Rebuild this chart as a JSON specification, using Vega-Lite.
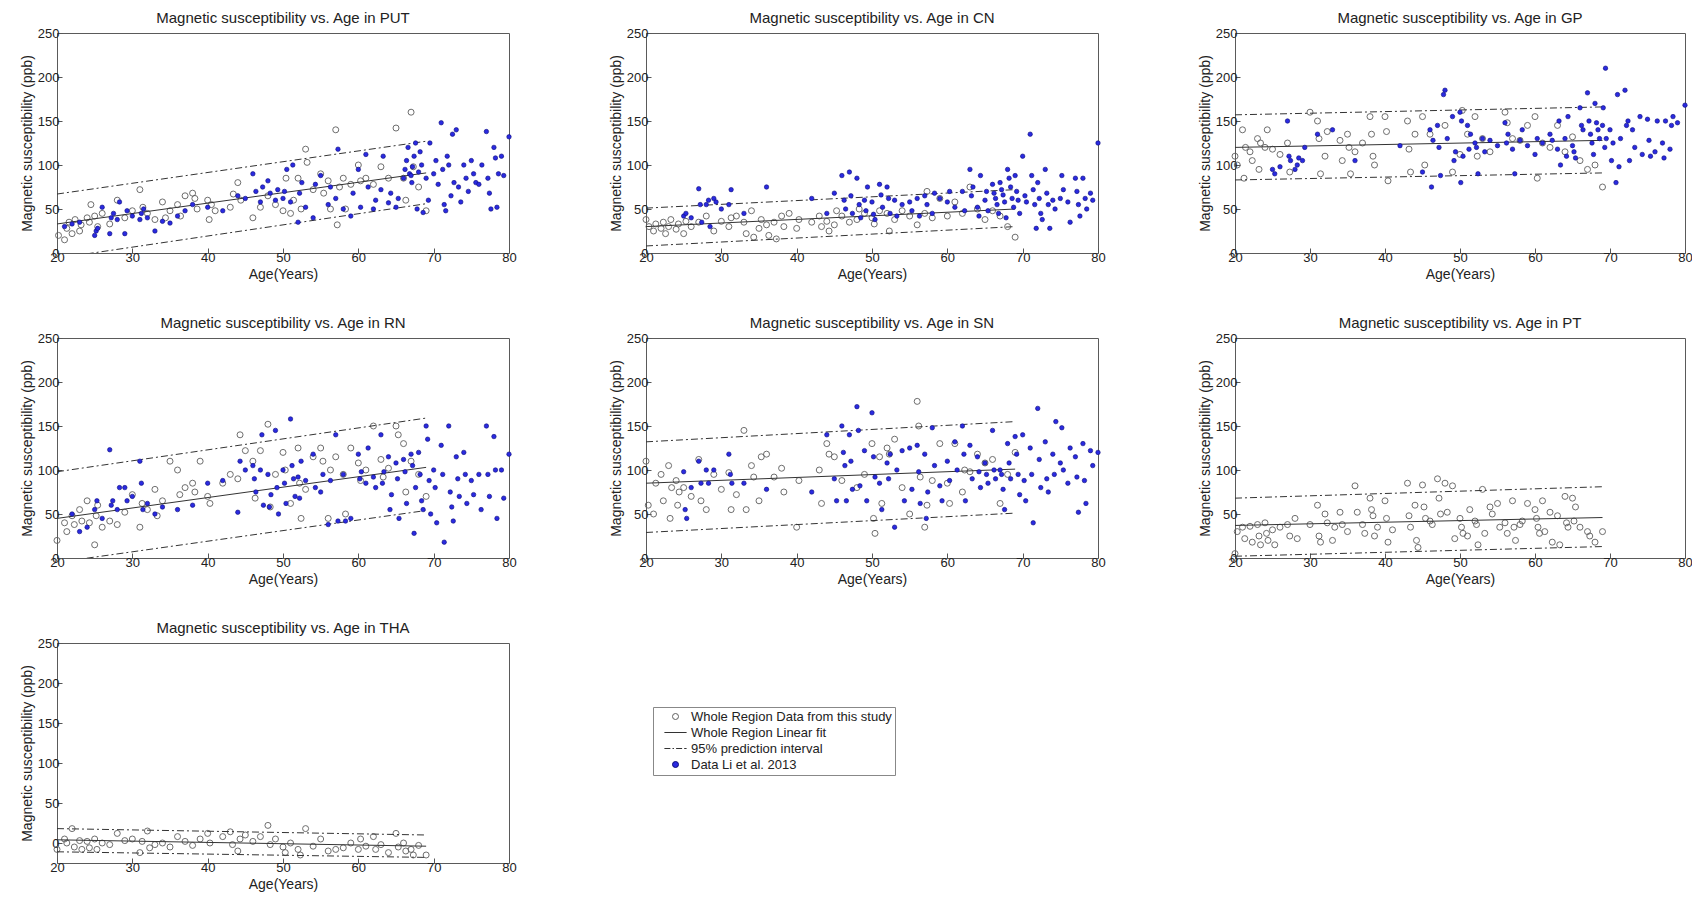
{
"$schema": "https://vega.github.io/schema/vega-lite/v6.json",
"background": "white",
"padding": {"left": 19, "top": 10, "right": 0, "bottom": 0},
"bounds": "flush",
"columns": 3,
"spacing": {"row": 85, "column": 137},
"concat": [
   {"width": 452, "height": 220, "title": "Magnetic susceptibility vs. Age in PUT",
    "encoding": {"x": {"field": "a", "type": "quantitative", "scale": {"domain": [20, 80], "nice": false, "zero": false}, "axis": {"values": [20,30,40,50,60,70,80], "title": "Age(Years)"}},
                 "y": {"field": "v", "type": "quantitative", "scale": {"domain": [0, 250], "nice": false, "zero": false}, "axis": {"values": [0,50,100,150,200,250], "title": "Magnetic susceptibility (ppb)"}}},
    "layer": [
     {"data": {"name": "PUT"}, "transform": [{"filter": "datum.s=='W'"}], "mark": {"type": "point", "filled": false, "strokeWidth": 0.9, "size": 36, "opacity": 1},
      "encoding": {"shape": {"field": "s", "type": "nominal", "scale": {"domain": ["W","F","P","L"], "range": ["circle","M-3.7,0H3.7","M-3.7,0H-1.7M-1,0H-0.5M0.2,0H2.2M2.9,0H3.7","circle"]}, "legend": {"title": null, "orient": "none", "legendX": 596, "legendY": 674, "symbolSize": 36, "labelExpr": "datum.label=='W'?'Whole Region Data from this study':datum.label=='F'?'Whole Region Linear fit':datum.label=='P'?'95% prediction interval':'Data Li et al. 2013'"}},
                   "fill": {"field": "s", "type": "nominal", "scale": {"domain": ["W","F","P","L"], "range": ["transparent","transparent","transparent","#2a2ae0"]}},
                   "stroke": {"field": "s", "type": "nominal", "scale": {"domain": ["W","F","P","L"], "range": ["#5e5e5e","#333333","#333333","#0b0b7a"]}}}},
     {"data": {"name": "PUT_l"}, "transform": [{"filter": "datum.k!='F'"}], "mark": {"type": "line", "clip": true, "strokeDash": [7,3,2,3], "color": "#333", "strokeWidth": 1}, "encoding": {"detail": {"field": "k"}}},
     {"data": {"name": "PUT_l"}, "transform": [{"filter": "datum.k=='F'"}], "mark": {"type": "line", "clip": true, "color": "#333", "strokeWidth": 1}, "encoding": {}},
     {"data": {"name": "PUT"}, "transform": [{"filter": "datum.s=='L'"}], "mark": {"type": "point", "filled": false, "strokeWidth": 0.6, "size": 20, "opacity": 1},
      "encoding": {"shape": {"field": "s", "type": "nominal", "scale": {"domain": ["W","F","P","L"], "range": ["circle","M-3.7,0H3.7","M-3.7,0H-1.7M-1,0H-0.5M0.2,0H2.2M2.9,0H3.7","circle"]}},
                   "fill": {"field": "s", "type": "nominal", "scale": {"domain": ["W","F","P","L"], "range": ["transparent","transparent","transparent","#2a2ae0"]}},
                   "stroke": {"field": "s", "type": "nominal", "scale": {"domain": ["W","F","P","L"], "range": ["#5e5e5e","#333333","#333333","#0b0b7a"]}}}}
    ]},
   {"width": 452, "height": 220, "title": "Magnetic susceptibility vs. Age in CN",
    "encoding": {"x": {"field": "a", "type": "quantitative", "scale": {"domain": [20, 80], "nice": false, "zero": false}, "axis": {"values": [20,30,40,50,60,70,80], "title": "Age(Years)"}},
                 "y": {"field": "v", "type": "quantitative", "scale": {"domain": [0, 250], "nice": false, "zero": false}, "axis": {"values": [0,50,100,150,200,250], "title": "Magnetic susceptibility (ppb)"}}},
    "layer": [
     {"data": {"name": "CN"}, "transform": [{"filter": "datum.s=='W'"}], "mark": {"type": "point", "filled": false, "strokeWidth": 0.9, "size": 36, "opacity": 1},
      "encoding": {"shape": {"field": "s", "type": "nominal", "scale": {"domain": ["W","F","P","L"], "range": ["circle","M-3.7,0H3.7","M-3.7,0H-1.7M-1,0H-0.5M0.2,0H2.2M2.9,0H3.7","circle"]}},
                   "fill": {"field": "s", "type": "nominal", "scale": {"domain": ["W","F","P","L"], "range": ["transparent","transparent","transparent","#2a2ae0"]}},
                   "stroke": {"field": "s", "type": "nominal", "scale": {"domain": ["W","F","P","L"], "range": ["#5e5e5e","#333333","#333333","#0b0b7a"]}}}},
     {"data": {"name": "CN_l"}, "transform": [{"filter": "datum.k!='F'"}], "mark": {"type": "line", "clip": true, "strokeDash": [7,3,2,3], "color": "#333", "strokeWidth": 1}, "encoding": {"detail": {"field": "k"}}},
     {"data": {"name": "CN_l"}, "transform": [{"filter": "datum.k=='F'"}], "mark": {"type": "line", "clip": true, "color": "#333", "strokeWidth": 1}, "encoding": {}},
     {"data": {"name": "CN"}, "transform": [{"filter": "datum.s=='L'"}], "mark": {"type": "point", "filled": false, "strokeWidth": 0.6, "size": 20, "opacity": 1},
      "encoding": {"shape": {"field": "s", "type": "nominal", "scale": {"domain": ["W","F","P","L"], "range": ["circle","M-3.7,0H3.7","M-3.7,0H-1.7M-1,0H-0.5M0.2,0H2.2M2.9,0H3.7","circle"]}},
                   "fill": {"field": "s", "type": "nominal", "scale": {"domain": ["W","F","P","L"], "range": ["transparent","transparent","transparent","#2a2ae0"]}},
                   "stroke": {"field": "s", "type": "nominal", "scale": {"domain": ["W","F","P","L"], "range": ["#5e5e5e","#333333","#333333","#0b0b7a"]}}}}
    ]},
   {"width": 450, "height": 220, "title": "Magnetic susceptibility vs. Age in GP",
    "encoding": {"x": {"field": "a", "type": "quantitative", "scale": {"domain": [20, 80], "nice": false, "zero": false}, "axis": {"values": [20,30,40,50,60,70,80], "title": "Age(Years)"}},
                 "y": {"field": "v", "type": "quantitative", "scale": {"domain": [0, 250], "nice": false, "zero": false}, "axis": {"values": [0,50,100,150,200,250], "title": "Magnetic susceptibility (ppb)"}}},
    "layer": [
     {"data": {"name": "GP"}, "transform": [{"filter": "datum.s=='W'"}], "mark": {"type": "point", "filled": false, "strokeWidth": 0.9, "size": 36, "opacity": 1},
      "encoding": {"shape": {"field": "s", "type": "nominal", "scale": {"domain": ["W","F","P","L"], "range": ["circle","M-3.7,0H3.7","M-3.7,0H-1.7M-1,0H-0.5M0.2,0H2.2M2.9,0H3.7","circle"]}},
                   "fill": {"field": "s", "type": "nominal", "scale": {"domain": ["W","F","P","L"], "range": ["transparent","transparent","transparent","#2a2ae0"]}},
                   "stroke": {"field": "s", "type": "nominal", "scale": {"domain": ["W","F","P","L"], "range": ["#5e5e5e","#333333","#333333","#0b0b7a"]}}}},
     {"data": {"name": "GP_l"}, "transform": [{"filter": "datum.k!='F'"}], "mark": {"type": "line", "clip": true, "strokeDash": [7,3,2,3], "color": "#333", "strokeWidth": 1}, "encoding": {"detail": {"field": "k"}}},
     {"data": {"name": "GP_l"}, "transform": [{"filter": "datum.k=='F'"}], "mark": {"type": "line", "clip": true, "color": "#333", "strokeWidth": 1}, "encoding": {}},
     {"data": {"name": "GP"}, "transform": [{"filter": "datum.s=='L'"}], "mark": {"type": "point", "filled": false, "strokeWidth": 0.6, "size": 20, "opacity": 1},
      "encoding": {"shape": {"field": "s", "type": "nominal", "scale": {"domain": ["W","F","P","L"], "range": ["circle","M-3.7,0H3.7","M-3.7,0H-1.7M-1,0H-0.5M0.2,0H2.2M2.9,0H3.7","circle"]}},
                   "fill": {"field": "s", "type": "nominal", "scale": {"domain": ["W","F","P","L"], "range": ["transparent","transparent","transparent","#2a2ae0"]}},
                   "stroke": {"field": "s", "type": "nominal", "scale": {"domain": ["W","F","P","L"], "range": ["#5e5e5e","#333333","#333333","#0b0b7a"]}}}}
    ]},
   {"width": 452, "height": 220, "title": "Magnetic susceptibility vs. Age in RN",
    "encoding": {"x": {"field": "a", "type": "quantitative", "scale": {"domain": [20, 80], "nice": false, "zero": false}, "axis": {"values": [20,30,40,50,60,70,80], "title": "Age(Years)"}},
                 "y": {"field": "v", "type": "quantitative", "scale": {"domain": [0, 250], "nice": false, "zero": false}, "axis": {"values": [0,50,100,150,200,250], "title": "Magnetic susceptibility (ppb)"}}},
    "layer": [
     {"data": {"name": "RN"}, "transform": [{"filter": "datum.s=='W'"}], "mark": {"type": "point", "filled": false, "strokeWidth": 0.9, "size": 36, "opacity": 1},
      "encoding": {"shape": {"field": "s", "type": "nominal", "scale": {"domain": ["W","F","P","L"], "range": ["circle","M-3.7,0H3.7","M-3.7,0H-1.7M-1,0H-0.5M0.2,0H2.2M2.9,0H3.7","circle"]}},
                   "fill": {"field": "s", "type": "nominal", "scale": {"domain": ["W","F","P","L"], "range": ["transparent","transparent","transparent","#2a2ae0"]}},
                   "stroke": {"field": "s", "type": "nominal", "scale": {"domain": ["W","F","P","L"], "range": ["#5e5e5e","#333333","#333333","#0b0b7a"]}}}},
     {"data": {"name": "RN_l"}, "transform": [{"filter": "datum.k!='F'"}], "mark": {"type": "line", "clip": true, "strokeDash": [7,3,2,3], "color": "#333", "strokeWidth": 1}, "encoding": {"detail": {"field": "k"}}},
     {"data": {"name": "RN_l"}, "transform": [{"filter": "datum.k=='F'"}], "mark": {"type": "line", "clip": true, "color": "#333", "strokeWidth": 1}, "encoding": {}},
     {"data": {"name": "RN"}, "transform": [{"filter": "datum.s=='L'"}], "mark": {"type": "point", "filled": false, "strokeWidth": 0.6, "size": 20, "opacity": 1},
      "encoding": {"shape": {"field": "s", "type": "nominal", "scale": {"domain": ["W","F","P","L"], "range": ["circle","M-3.7,0H3.7","M-3.7,0H-1.7M-1,0H-0.5M0.2,0H2.2M2.9,0H3.7","circle"]}},
                   "fill": {"field": "s", "type": "nominal", "scale": {"domain": ["W","F","P","L"], "range": ["transparent","transparent","transparent","#2a2ae0"]}},
                   "stroke": {"field": "s", "type": "nominal", "scale": {"domain": ["W","F","P","L"], "range": ["#5e5e5e","#333333","#333333","#0b0b7a"]}}}}
    ]},
   {"width": 452, "height": 220, "title": "Magnetic susceptibility vs. Age in SN",
    "encoding": {"x": {"field": "a", "type": "quantitative", "scale": {"domain": [20, 80], "nice": false, "zero": false}, "axis": {"values": [20,30,40,50,60,70,80], "title": "Age(Years)"}},
                 "y": {"field": "v", "type": "quantitative", "scale": {"domain": [0, 250], "nice": false, "zero": false}, "axis": {"values": [0,50,100,150,200,250], "title": "Magnetic susceptibility (ppb)"}}},
    "layer": [
     {"data": {"name": "SN"}, "transform": [{"filter": "datum.s=='W'"}], "mark": {"type": "point", "filled": false, "strokeWidth": 0.9, "size": 36, "opacity": 1},
      "encoding": {"shape": {"field": "s", "type": "nominal", "scale": {"domain": ["W","F","P","L"], "range": ["circle","M-3.7,0H3.7","M-3.7,0H-1.7M-1,0H-0.5M0.2,0H2.2M2.9,0H3.7","circle"]}},
                   "fill": {"field": "s", "type": "nominal", "scale": {"domain": ["W","F","P","L"], "range": ["transparent","transparent","transparent","#2a2ae0"]}},
                   "stroke": {"field": "s", "type": "nominal", "scale": {"domain": ["W","F","P","L"], "range": ["#5e5e5e","#333333","#333333","#0b0b7a"]}}}},
     {"data": {"name": "SN_l"}, "transform": [{"filter": "datum.k!='F'"}], "mark": {"type": "line", "clip": true, "strokeDash": [7,3,2,3], "color": "#333", "strokeWidth": 1}, "encoding": {"detail": {"field": "k"}}},
     {"data": {"name": "SN_l"}, "transform": [{"filter": "datum.k=='F'"}], "mark": {"type": "line", "clip": true, "color": "#333", "strokeWidth": 1}, "encoding": {}},
     {"data": {"name": "SN"}, "transform": [{"filter": "datum.s=='L'"}], "mark": {"type": "point", "filled": false, "strokeWidth": 0.6, "size": 20, "opacity": 1},
      "encoding": {"shape": {"field": "s", "type": "nominal", "scale": {"domain": ["W","F","P","L"], "range": ["circle","M-3.7,0H3.7","M-3.7,0H-1.7M-1,0H-0.5M0.2,0H2.2M2.9,0H3.7","circle"]}},
                   "fill": {"field": "s", "type": "nominal", "scale": {"domain": ["W","F","P","L"], "range": ["transparent","transparent","transparent","#2a2ae0"]}},
                   "stroke": {"field": "s", "type": "nominal", "scale": {"domain": ["W","F","P","L"], "range": ["#5e5e5e","#333333","#333333","#0b0b7a"]}}}}
    ]},
   {"width": 450, "height": 220, "title": "Magnetic susceptibility vs. Age in PT",
    "encoding": {"x": {"field": "a", "type": "quantitative", "scale": {"domain": [20, 80], "nice": false, "zero": false}, "axis": {"values": [20,30,40,50,60,70,80], "title": "Age(Years)"}},
                 "y": {"field": "v", "type": "quantitative", "scale": {"domain": [0, 250], "nice": false, "zero": false}, "axis": {"values": [0,50,100,150,200,250], "title": "Magnetic susceptibility (ppb)"}}},
    "layer": [
     {"data": {"name": "PT"}, "transform": [{"filter": "datum.s=='W'"}], "mark": {"type": "point", "filled": false, "strokeWidth": 0.9, "size": 36, "opacity": 1},
      "encoding": {"shape": {"field": "s", "type": "nominal", "scale": {"domain": ["W","F","P","L"], "range": ["circle","M-3.7,0H3.7","M-3.7,0H-1.7M-1,0H-0.5M0.2,0H2.2M2.9,0H3.7","circle"]}},
                   "fill": {"field": "s", "type": "nominal", "scale": {"domain": ["W","F","P","L"], "range": ["transparent","transparent","transparent","#2a2ae0"]}},
                   "stroke": {"field": "s", "type": "nominal", "scale": {"domain": ["W","F","P","L"], "range": ["#5e5e5e","#333333","#333333","#0b0b7a"]}}}},
     {"data": {"name": "PT_l"}, "transform": [{"filter": "datum.k!='F'"}], "mark": {"type": "line", "clip": true, "strokeDash": [7,3,2,3], "color": "#333", "strokeWidth": 1}, "encoding": {"detail": {"field": "k"}}},
     {"data": {"name": "PT_l"}, "transform": [{"filter": "datum.k=='F'"}], "mark": {"type": "line", "clip": true, "color": "#333", "strokeWidth": 1}, "encoding": {}}
    ]},
   {"width": 452, "height": 220, "title": "Magnetic susceptibility vs. Age in THA",
    "encoding": {"x": {"field": "a", "type": "quantitative", "scale": {"domain": [20, 80], "nice": false, "zero": false}, "axis": {"values": [20,30,40,50,60,70,80], "title": "Age(Years)"}},
                 "y": {"field": "v", "type": "quantitative", "scale": {"domain": [-25, 250], "nice": false, "zero": false}, "axis": {"values": [0,50,100,150,200,250], "title": "Magnetic susceptibility (ppb)"}}},
    "layer": [
     {"data": {"name": "THA"}, "transform": [{"filter": "datum.s=='W'"}], "mark": {"type": "point", "filled": false, "strokeWidth": 0.9, "size": 36, "opacity": 1},
      "encoding": {"shape": {"field": "s", "type": "nominal", "scale": {"domain": ["W","F","P","L"], "range": ["circle","M-3.7,0H3.7","M-3.7,0H-1.7M-1,0H-0.5M0.2,0H2.2M2.9,0H3.7","circle"]}},
                   "fill": {"field": "s", "type": "nominal", "scale": {"domain": ["W","F","P","L"], "range": ["transparent","transparent","transparent","#2a2ae0"]}},
                   "stroke": {"field": "s", "type": "nominal", "scale": {"domain": ["W","F","P","L"], "range": ["#5e5e5e","#333333","#333333","#0b0b7a"]}}}},
     {"data": {"name": "THA_l"}, "transform": [{"filter": "datum.k!='F'"}], "mark": {"type": "line", "clip": true, "strokeDash": [7,3,2,3], "color": "#333", "strokeWidth": 1}, "encoding": {"detail": {"field": "k"}}},
     {"data": {"name": "THA_l"}, "transform": [{"filter": "datum.k=='F'"}], "mark": {"type": "line", "clip": true, "color": "#333", "strokeWidth": 1}, "encoding": {}}
    ]}
],
"datasets": {
 "PUT_l": [{"k":"F","a":20,"v":33},{"k":"F","a":69,"v":91},{"k":"U","a":20,"v":67},{"k":"U","a":69,"v":127},{"k":"D","a":20,"v":-6},{"k":"D","a":69,"v":56}],
 "CN_l": [{"k":"F","a":20,"v":30},{"k":"F","a":69,"v":50},{"k":"U","a":20,"v":51},{"k":"U","a":69,"v":72},{"k":"D","a":20,"v":8},{"k":"D","a":69,"v":30}],
 "GP_l": [{"k":"F","a":20,"v":120},{"k":"F","a":69,"v":128},{"k":"U","a":20,"v":157},{"k":"U","a":69,"v":166},{"k":"D","a":20,"v":83},{"k":"D","a":69,"v":91}],
 "RN_l": [{"k":"F","a":20,"v":45},{"k":"F","a":69,"v":103},{"k":"U","a":20,"v":98},{"k":"U","a":69,"v":159},{"k":"D","a":20,"v":-5},{"k":"D","a":69,"v":54}],
 "SN_l": [{"k":"F","a":20,"v":85},{"k":"F","a":69,"v":101},{"k":"U","a":20,"v":132},{"k":"U","a":69,"v":155},{"k":"D","a":20,"v":29},{"k":"D","a":69,"v":51}],
 "PT_l": [{"k":"F","a":20,"v":37},{"k":"F","a":69,"v":46},{"k":"U","a":20,"v":68},{"k":"U","a":69,"v":81},{"k":"D","a":20,"v":2},{"k":"D","a":69,"v":13}],
 "THA_l": [{"k":"F","a":20,"v":4},{"k":"F","a":69,"v":-4},{"k":"U","a":20,"v":18},{"k":"U","a":69,"v":10},{"k":"D","a":20,"v":-11},{"k":"D","a":69,"v":-18}],
 "PUT": [
{"s":"W","a":20.2,"v":20},{"s":"W","a":21,"v":15},{"s":"W","a":21.3,"v":28},{"s":"W","a":21.6,"v":35},{"s":"W","a":22,"v":22},{"s":"W","a":22.4,"v":38},{"s":"W","a":23,"v":25},{"s":"W","a":23.2,"v":32},{"s":"W","a":24,"v":40},{"s":"W","a":24.3,"v":35},{"s":"W","a":24.5,"v":55},{"s":"W","a":25,"v":42},{"s":"W","a":25.4,"v":30},{"s":"W","a":26,"v":45},{"s":"W","a":27,"v":33},{"s":"W","a":28,"v":60},{"s":"W","a":29,"v":40},{"s":"W","a":30,"v":48},{"s":"W","a":31,"v":72},{"s":"W","a":31.4,"v":52},{"s":"W","a":32,"v":45},{"s":"W","a":33,"v":38},{"s":"W","a":34,"v":58},{"s":"W","a":34.4,"v":40},{"s":"W","a":35,"v":48},{"s":"W","a":36,"v":55},{"s":"W","a":36.4,"v":42},{"s":"W","a":37,"v":65},{"s":"W","a":38,"v":68},{"s":"W","a":38.3,"v":62},{"s":"W","a":38.6,"v":50},{"s":"W","a":40,"v":60},{"s":"W","a":40.2,"v":38},{"s":"W","a":40.5,"v":55},{"s":"W","a":41,"v":48},{"s":"W","a":43,"v":52},{"s":"W","a":43.4,"v":67},{"s":"W","a":44,"v":80},{"s":"W","a":44.4,"v":60},{"s":"W","a":46,"v":40},{"s":"W","a":47,"v":52},{"s":"W","a":48,"v":65},{"s":"W","a":49,"v":55},{"s":"W","a":50,"v":48},{"s":"W","a":50.4,"v":85},{"s":"W","a":51,"v":45},{"s":"W","a":51.4,"v":60},{"s":"W","a":52,"v":85},{"s":"W","a":52.4,"v":50},{"s":"W","a":53,"v":118},{"s":"W","a":53.2,"v":103},{"s":"W","a":54,"v":72},{"s":"W","a":55,"v":90},{"s":"W","a":55.4,"v":68},{"s":"W","a":56,"v":82},{"s":"W","a":56.3,"v":50},{"s":"W","a":57,"v":140},{"s":"W","a":57.2,"v":32},{"s":"W","a":57.5,"v":75},{"s":"W","a":58,"v":85},{"s":"W","a":58.3,"v":50},{"s":"W","a":59,"v":78},{"s":"W","a":60,"v":100},{"s":"W","a":60.3,"v":82},{"s":"W","a":61,"v":85},{"s":"W","a":62,"v":78},{"s":"W","a":63,"v":98},{"s":"W","a":64,"v":85},{"s":"W","a":65,"v":142},{"s":"W","a":66,"v":85},{"s":"W","a":66.3,"v":60},{"s":"W","a":67,"v":160},{"s":"W","a":67.3,"v":98},{"s":"W","a":68,"v":75},{"s":"W","a":69,"v":48},
{"s":"L","a":21,"v":30},{"s":"L","a":22,"v":33},{"s":"L","a":23,"v":35},{"s":"L","a":25,"v":20},{"s":"L","a":25.2,"v":25},{"s":"L","a":25.4,"v":28},{"s":"L","a":26,"v":52},{"s":"L","a":27,"v":22},{"s":"L","a":27.2,"v":40},{"s":"L","a":27.5,"v":45},{"s":"L","a":28,"v":38},{"s":"L","a":28.3,"v":58},{"s":"L","a":29,"v":22},{"s":"L","a":29.3,"v":48},{"s":"L","a":30,"v":42},{"s":"L","a":31,"v":38},{"s":"L","a":31.2,"v":45},{"s":"L","a":31.5,"v":50},{"s":"L","a":32,"v":40},{"s":"L","a":33,"v":25},{"s":"L","a":34,"v":36},{"s":"L","a":35,"v":34},{"s":"L","a":36,"v":42},{"s":"L","a":37,"v":48},{"s":"L","a":38,"v":55},{"s":"L","a":40,"v":52},{"s":"L","a":42,"v":48},{"s":"L","a":44,"v":65},{"s":"L","a":45,"v":62},{"s":"L","a":46,"v":90},{"s":"L","a":46.4,"v":70},{"s":"L","a":47,"v":58},{"s":"L","a":47.3,"v":75},{"s":"L","a":48,"v":82},{"s":"L","a":48.3,"v":68},{"s":"L","a":49,"v":60},{"s":"L","a":49.3,"v":72},{"s":"L","a":50,"v":62},{"s":"L","a":50.2,"v":70},{"s":"L","a":50.5,"v":95},{"s":"L","a":51,"v":58},{"s":"L","a":51.3,"v":100},{"s":"L","a":52,"v":35},{"s":"L","a":52.2,"v":68},{"s":"L","a":52.5,"v":80},{"s":"L","a":53,"v":52},{"s":"L","a":54,"v":40},{"s":"L","a":54.3,"v":78},{"s":"L","a":55,"v":88},{"s":"L","a":56,"v":55},{"s":"L","a":56.3,"v":75},{"s":"L","a":57,"v":62},{"s":"L","a":57.3,"v":118},{"s":"L","a":58,"v":50},{"s":"L","a":59,"v":42},{"s":"L","a":59.3,"v":68},{"s":"L","a":60,"v":95},{"s":"L","a":60.3,"v":52},{"s":"L","a":61,"v":112},{"s":"L","a":61.3,"v":75},{"s":"L","a":62,"v":50},{"s":"L","a":62.3,"v":60},{"s":"L","a":63,"v":72},{"s":"L","a":63.3,"v":110},{"s":"L","a":64,"v":57},{"s":"L","a":64.3,"v":68},{"s":"L","a":65,"v":52},{"s":"L","a":65.3,"v":62},{"s":"L","a":66,"v":85},{"s":"L","a":66.2,"v":95},{"s":"L","a":66.4,"v":105},{"s":"L","a":66.6,"v":120},{"s":"L","a":66.8,"v":90},{"s":"L","a":67,"v":88},{"s":"L","a":67.2,"v":98},{"s":"L","a":67.4,"v":110},{"s":"L","a":67.6,"v":125},{"s":"L","a":67.8,"v":50},{"s":"L","a":67.1,"v":80},{"s":"L","a":68,"v":92},{"s":"L","a":68.2,"v":115},{"s":"L","a":68.4,"v":100},{"s":"L","a":68.6,"v":46},{"s":"L","a":69,"v":85},{"s":"L","a":69.3,"v":60},{"s":"L","a":69.5,"v":125},{"s":"L","a":70,"v":90},{"s":"L","a":70.3,"v":105},{"s":"L","a":70.6,"v":78},{"s":"L","a":71,"v":148},{"s":"L","a":71.2,"v":95},{"s":"L","a":71.4,"v":55},{"s":"L","a":71.6,"v":48},{"s":"L","a":71.8,"v":110},{"s":"L","a":72,"v":100},{"s":"L","a":72.3,"v":65},{"s":"L","a":72.5,"v":135},{"s":"L","a":72.7,"v":80},{"s":"L","a":73,"v":140},{"s":"L","a":73.3,"v":75},{"s":"L","a":73.6,"v":58},{"s":"L","a":74,"v":100},{"s":"L","a":74.3,"v":85},{"s":"L","a":74.6,"v":70},{"s":"L","a":75,"v":105},{"s":"L","a":75.3,"v":90},{"s":"L","a":75.6,"v":80},{"s":"L","a":76,"v":78},{"s":"L","a":76.4,"v":100},{"s":"L","a":77,"v":138},{"s":"L","a":77.2,"v":85},{"s":"L","a":77.4,"v":68},{"s":"L","a":77.6,"v":50},{"s":"L","a":78,"v":120},{"s":"L","a":78.2,"v":108},{"s":"L","a":78.4,"v":52},{"s":"L","a":78.6,"v":90},{"s":"L","a":79,"v":110},{"s":"L","a":79.3,"v":88},{"s":"L","a":80,"v":132}],
 "CN": [
{"s":"W","a":20,"v":38},{"s":"W","a":20.4,"v":30},{"s":"W","a":21,"v":25},{"s":"W","a":21.3,"v":33},{"s":"W","a":22,"v":28},{"s":"W","a":22.3,"v":35},{"s":"W","a":22.6,"v":22},{"s":"W","a":23,"v":30},{"s":"W","a":23.3,"v":38},{"s":"W","a":24,"v":27},{"s":"W","a":24.3,"v":33},{"s":"W","a":25,"v":22},{"s":"W","a":25.3,"v":36},{"s":"W","a":26,"v":30},{"s":"W","a":27,"v":35},{"s":"W","a":28,"v":42},{"s":"W","a":29,"v":25},{"s":"W","a":30,"v":36},{"s":"W","a":31,"v":30},{"s":"W","a":31.3,"v":40},{"s":"W","a":32,"v":42},{"s":"W","a":33,"v":35},{"s":"W","a":33.3,"v":22},{"s":"W","a":34,"v":48},{"s":"W","a":34.3,"v":18},{"s":"W","a":35,"v":28},{"s":"W","a":35.3,"v":38},{"s":"W","a":36,"v":32},{"s":"W","a":36.3,"v":20},{"s":"W","a":37,"v":35},{"s":"W","a":37.3,"v":16},{"s":"W","a":38,"v":42},{"s":"W","a":38.3,"v":30},{"s":"W","a":39,"v":45},{"s":"W","a":40,"v":28},{"s":"W","a":40.3,"v":38},{"s":"W","a":42,"v":35},{"s":"W","a":43,"v":42},{"s":"W","a":43.3,"v":30},{"s":"W","a":44,"v":36},{"s":"W","a":44.3,"v":25},{"s":"W","a":45,"v":32},{"s":"W","a":45.3,"v":48},{"s":"W","a":46,"v":42},{"s":"W","a":47,"v":35},{"s":"W","a":48,"v":38},{"s":"W","a":48.3,"v":50},{"s":"W","a":49,"v":45},{"s":"W","a":50,"v":40},{"s":"W","a":50.3,"v":33},{"s":"W","a":51,"v":48},{"s":"W","a":52,"v":45},{"s":"W","a":52.3,"v":25},{"s":"W","a":53,"v":38},{"s":"W","a":54,"v":48},{"s":"W","a":55,"v":42},{"s":"W","a":56,"v":32},{"s":"W","a":57,"v":45},{"s":"W","a":57.3,"v":70},{"s":"W","a":58,"v":40},{"s":"W","a":59,"v":62},{"s":"W","a":60,"v":42},{"s":"W","a":61,"v":58},{"s":"W","a":62,"v":45},{"s":"W","a":63,"v":75},{"s":"W","a":64,"v":50},{"s":"W","a":65,"v":38},{"s":"W","a":66,"v":48},{"s":"W","a":67,"v":42},{"s":"W","a":68,"v":30},{"s":"W","a":69,"v":18},
{"s":"L","a":25,"v":42},{"s":"L","a":25.3,"v":45},{"s":"L","a":26,"v":40},{"s":"L","a":27,"v":73},{"s":"L","a":27.2,"v":55},{"s":"L","a":27.4,"v":35},{"s":"L","a":28,"v":55},{"s":"L","a":28.3,"v":60},{"s":"L","a":28.5,"v":30},{"s":"L","a":29,"v":62},{"s":"L","a":29.3,"v":58},{"s":"L","a":30,"v":50},{"s":"L","a":31,"v":55},{"s":"L","a":31.3,"v":72},{"s":"L","a":33,"v":45},{"s":"L","a":36,"v":75},{"s":"L","a":42,"v":62},{"s":"L","a":44,"v":45},{"s":"L","a":45,"v":68},{"s":"L","a":46,"v":88},{"s":"L","a":46.3,"v":60},{"s":"L","a":46.5,"v":50},{"s":"L","a":47,"v":92},{"s":"L","a":47.2,"v":65},{"s":"L","a":47.4,"v":45},{"s":"L","a":48,"v":85},{"s":"L","a":48.3,"v":55},{"s":"L","a":48.5,"v":40},{"s":"L","a":49,"v":60},{"s":"L","a":49.2,"v":48},{"s":"L","a":49.4,"v":75},{"s":"L","a":50,"v":58},{"s":"L","a":50.2,"v":44},{"s":"L","a":50.4,"v":38},{"s":"L","a":51,"v":78},{"s":"L","a":51.2,"v":66},{"s":"L","a":51.4,"v":52},{"s":"L","a":52,"v":75},{"s":"L","a":52.2,"v":62},{"s":"L","a":52.4,"v":45},{"s":"L","a":53,"v":60},{"s":"L","a":53.3,"v":42},{"s":"L","a":54,"v":55},{"s":"L","a":55,"v":58},{"s":"L","a":55.3,"v":48},{"s":"L","a":56,"v":62},{"s":"L","a":56.3,"v":42},{"s":"L","a":57,"v":65},{"s":"L","a":57.3,"v":55},{"s":"L","a":58,"v":45},{"s":"L","a":58.3,"v":68},{"s":"L","a":59,"v":62},{"s":"L","a":60,"v":58},{"s":"L","a":60.3,"v":70},{"s":"L","a":61,"v":52},{"s":"L","a":62,"v":70},{"s":"L","a":62.3,"v":48},{"s":"L","a":63,"v":95},{"s":"L","a":63.2,"v":65},{"s":"L","a":63.4,"v":75},{"s":"L","a":64,"v":52},{"s":"L","a":64.2,"v":42},{"s":"L","a":64.4,"v":88},{"s":"L","a":65,"v":60},{"s":"L","a":65.2,"v":70},{"s":"L","a":65.4,"v":48},{"s":"L","a":66,"v":78},{"s":"L","a":66.2,"v":68},{"s":"L","a":66.4,"v":62},{"s":"L","a":66.6,"v":55},{"s":"L","a":66.8,"v":45},{"s":"L","a":67,"v":80},{"s":"L","a":67.2,"v":72},{"s":"L","a":67.4,"v":66},{"s":"L","a":67.6,"v":58},{"s":"L","a":67.8,"v":40},{"s":"L","a":68,"v":95},{"s":"L","a":68.2,"v":85},{"s":"L","a":68.4,"v":75},{"s":"L","a":68.6,"v":62},{"s":"L","a":68.8,"v":52},{"s":"L","a":69,"v":88},{"s":"L","a":69.2,"v":70},{"s":"L","a":69.4,"v":60},{"s":"L","a":69.6,"v":45},{"s":"L","a":70,"v":110},{"s":"L","a":70.3,"v":65},{"s":"L","a":70.5,"v":58},{"s":"L","a":71,"v":135},{"s":"L","a":71.2,"v":88},{"s":"L","a":71.4,"v":72},{"s":"L","a":71.6,"v":55},{"s":"L","a":71.8,"v":28},{"s":"L","a":72,"v":80},{"s":"L","a":72.2,"v":62},{"s":"L","a":72.4,"v":45},{"s":"L","a":72.6,"v":38},{"s":"L","a":73,"v":95},{"s":"L","a":73.2,"v":68},{"s":"L","a":73.4,"v":55},{"s":"L","a":73.6,"v":28},{"s":"L","a":74,"v":60},{"s":"L","a":74.3,"v":50},{"s":"L","a":75,"v":62},{"s":"L","a":75.2,"v":88},{"s":"L","a":75.4,"v":72},{"s":"L","a":76,"v":58},{"s":"L","a":76.3,"v":35},{"s":"L","a":77,"v":85},{"s":"L","a":77.2,"v":70},{"s":"L","a":77.4,"v":55},{"s":"L","a":77.6,"v":42},{"s":"L","a":78,"v":85},{"s":"L","a":78.3,"v":62},{"s":"L","a":78.5,"v":50},{"s":"L","a":79,"v":68},{"s":"L","a":79.3,"v":60},{"s":"L","a":80,"v":125}],
 "GP": [
{"s":"W","a":20,"v":110},{"s":"W","a":20.3,"v":100},{"s":"W","a":21,"v":140},{"s":"W","a":21.2,"v":85},{"s":"W","a":21.4,"v":120},{"s":"W","a":22,"v":115},{"s":"W","a":22.3,"v":105},{"s":"W","a":23,"v":130},{"s":"W","a":23.2,"v":95},{"s":"W","a":23.4,"v":125},{"s":"W","a":24,"v":120},{"s":"W","a":24.3,"v":140},{"s":"W","a":25,"v":118},{"s":"W","a":26,"v":112},{"s":"W","a":27,"v":125},{"s":"W","a":27.3,"v":92},{"s":"W","a":30,"v":160},{"s":"W","a":31,"v":150},{"s":"W","a":31.2,"v":130},{"s":"W","a":31.4,"v":90},{"s":"W","a":32,"v":110},{"s":"W","a":32.3,"v":138},{"s":"W","a":34,"v":128},{"s":"W","a":34.3,"v":105},{"s":"W","a":35,"v":135},{"s":"W","a":35.2,"v":120},{"s":"W","a":35.4,"v":90},{"s":"W","a":36,"v":115},{"s":"W","a":37,"v":125},{"s":"W","a":38,"v":155},{"s":"W","a":38.2,"v":135},{"s":"W","a":38.4,"v":110},{"s":"W","a":38.6,"v":100},{"s":"W","a":40,"v":155},{"s":"W","a":40.2,"v":138},{"s":"W","a":40.4,"v":82},{"s":"W","a":43,"v":150},{"s":"W","a":43.2,"v":118},{"s":"W","a":43.4,"v":92},{"s":"W","a":44,"v":135},{"s":"W","a":45,"v":155},{"s":"W","a":45.3,"v":100},{"s":"W","a":46,"v":135},{"s":"W","a":48,"v":145},{"s":"W","a":49,"v":92},{"s":"W","a":50,"v":112},{"s":"W","a":50.3,"v":162},{"s":"W","a":51,"v":135},{"s":"W","a":52,"v":155},{"s":"W","a":52.3,"v":110},{"s":"W","a":53,"v":130},{"s":"W","a":54,"v":115},{"s":"W","a":56,"v":160},{"s":"W","a":56.3,"v":148},{"s":"W","a":57,"v":130},{"s":"W","a":58,"v":128},{"s":"W","a":59,"v":145},{"s":"W","a":60,"v":155},{"s":"W","a":60.3,"v":85},{"s":"W","a":61,"v":125},{"s":"W","a":62,"v":120},{"s":"W","a":63,"v":145},{"s":"W","a":64,"v":115},{"s":"W","a":65,"v":132},{"s":"W","a":66,"v":105},{"s":"W","a":67,"v":95},{"s":"W","a":68,"v":100},{"s":"W","a":69,"v":75},
{"s":"L","a":25,"v":95},{"s":"L","a":25.3,"v":90},{"s":"L","a":26,"v":98},{"s":"L","a":27,"v":150},{"s":"L","a":27.2,"v":110},{"s":"L","a":27.4,"v":105},{"s":"L","a":28,"v":95},{"s":"L","a":28.3,"v":100},{"s":"L","a":28.5,"v":108},{"s":"L","a":29,"v":105},{"s":"L","a":29.3,"v":120},{"s":"L","a":31,"v":135},{"s":"L","a":33,"v":140},{"s":"L","a":36,"v":105},{"s":"L","a":42,"v":122},{"s":"L","a":45,"v":92},{"s":"L","a":46,"v":140},{"s":"L","a":46.2,"v":75},{"s":"L","a":46.4,"v":128},{"s":"L","a":47,"v":145},{"s":"L","a":47.2,"v":120},{"s":"L","a":47.4,"v":88},{"s":"L","a":48,"v":185},{"s":"L","a":47.8,"v":180},{"s":"L","a":48.3,"v":130},{"s":"L","a":49,"v":155},{"s":"L","a":49.2,"v":105},{"s":"L","a":49.4,"v":115},{"s":"L","a":50,"v":160},{"s":"L","a":50.2,"v":150},{"s":"L","a":50.4,"v":110},{"s":"L","a":50.1,"v":80},{"s":"L","a":51,"v":145},{"s":"L","a":51.2,"v":118},{"s":"L","a":51.4,"v":135},{"s":"L","a":52,"v":125},{"s":"L","a":52.2,"v":120},{"s":"L","a":52.4,"v":90},{"s":"L","a":53,"v":130},{"s":"L","a":53.3,"v":115},{"s":"L","a":54,"v":128},{"s":"L","a":55,"v":122},{"s":"L","a":56,"v":148},{"s":"L","a":56.2,"v":125},{"s":"L","a":56.4,"v":135},{"s":"L","a":57,"v":118},{"s":"L","a":57.3,"v":90},{"s":"L","a":58,"v":128},{"s":"L","a":58.3,"v":140},{"s":"L","a":59,"v":122},{"s":"L","a":60,"v":112},{"s":"L","a":60.3,"v":130},{"s":"L","a":61,"v":125},{"s":"L","a":62,"v":135},{"s":"L","a":62.3,"v":128},{"s":"L","a":63,"v":118},{"s":"L","a":63.2,"v":150},{"s":"L","a":63.4,"v":100},{"s":"L","a":64,"v":130},{"s":"L","a":64.2,"v":110},{"s":"L","a":64.4,"v":155},{"s":"L","a":65,"v":122},{"s":"L","a":65.2,"v":115},{"s":"L","a":65.4,"v":108},{"s":"L","a":66,"v":165},{"s":"L","a":66.2,"v":145},{"s":"L","a":66.4,"v":140},{"s":"L","a":67,"v":182},{"s":"L","a":67.2,"v":150},{"s":"L","a":67.4,"v":135},{"s":"L","a":67.6,"v":125},{"s":"L","a":67.8,"v":112},{"s":"L","a":68,"v":170},{"s":"L","a":68.2,"v":148},{"s":"L","a":68.4,"v":140},{"s":"L","a":68.6,"v":130},{"s":"L","a":69,"v":145},{"s":"L","a":69.1,"v":165},{"s":"L","a":69.3,"v":120},{"s":"L","a":69.5,"v":130},{"s":"L","a":69.4,"v":210},{"s":"L","a":70,"v":140},{"s":"L","a":70.2,"v":105},{"s":"L","a":70.4,"v":125},{"s":"L","a":71,"v":180},{"s":"L","a":71.2,"v":98},{"s":"L","a":70.8,"v":80},{"s":"L","a":71.4,"v":130},{"s":"L","a":72,"v":185},{"s":"L","a":72.2,"v":145},{"s":"L","a":72.4,"v":150},{"s":"L","a":72.6,"v":105},{"s":"L","a":73,"v":140},{"s":"L","a":73.3,"v":120},{"s":"L","a":74,"v":155},{"s":"L","a":74.3,"v":112},{"s":"L","a":75,"v":152},{"s":"L","a":75.2,"v":128},{"s":"L","a":75.4,"v":110},{"s":"L","a":76,"v":115},{"s":"L","a":76.3,"v":150},{"s":"L","a":77,"v":125},{"s":"L","a":77.2,"v":108},{"s":"L","a":77.4,"v":150},{"s":"L","a":78,"v":118},{"s":"L","a":78.2,"v":145},{"s":"L","a":78.4,"v":155},{"s":"L","a":79,"v":148},{"s":"L","a":80,"v":168}],
 "RN": [
{"s":"W","a":20,"v":20},{"s":"W","a":21,"v":40},{"s":"W","a":21.3,"v":30},{"s":"W","a":22,"v":48},{"s":"W","a":22.3,"v":38},{"s":"W","a":23,"v":55},{"s":"W","a":23.3,"v":42},{"s":"W","a":24,"v":65},{"s":"W","a":24.3,"v":40},{"s":"W","a":25,"v":15},{"s":"W","a":25.2,"v":48},{"s":"W","a":25.4,"v":60},{"s":"W","a":26,"v":35},{"s":"W","a":27,"v":42},{"s":"W","a":28,"v":38},{"s":"W","a":29,"v":52},{"s":"W","a":30,"v":72},{"s":"W","a":31,"v":35},{"s":"W","a":31.3,"v":62},{"s":"W","a":32,"v":55},{"s":"W","a":33,"v":78},{"s":"W","a":33.3,"v":48},{"s":"W","a":34,"v":65},{"s":"W","a":35,"v":110},{"s":"W","a":36,"v":100},{"s":"W","a":36.3,"v":72},{"s":"W","a":37,"v":80},{"s":"W","a":38,"v":85},{"s":"W","a":38.3,"v":75},{"s":"W","a":39,"v":110},{"s":"W","a":40,"v":70},{"s":"W","a":40.3,"v":62},{"s":"W","a":42,"v":85},{"s":"W","a":43,"v":95},{"s":"W","a":44,"v":90},{"s":"W","a":44.3,"v":140},{"s":"W","a":45,"v":122},{"s":"W","a":46,"v":110},{"s":"W","a":46.3,"v":68},{"s":"W","a":47,"v":122},{"s":"W","a":48,"v":152},{"s":"W","a":48.3,"v":58},{"s":"W","a":49,"v":95},{"s":"W","a":50,"v":120},{"s":"W","a":50.3,"v":100},{"s":"W","a":51,"v":62},{"s":"W","a":52,"v":125},{"s":"W","a":52.2,"v":85},{"s":"W","a":52.4,"v":45},{"s":"W","a":53,"v":78},{"s":"W","a":54,"v":115},{"s":"W","a":55,"v":125},{"s":"W","a":55.3,"v":110},{"s":"W","a":56,"v":45},{"s":"W","a":56.3,"v":100},{"s":"W","a":57,"v":115},{"s":"W","a":58,"v":95},{"s":"W","a":58.3,"v":50},{"s":"W","a":59,"v":125},{"s":"W","a":60,"v":108},{"s":"W","a":60.3,"v":88},{"s":"W","a":61,"v":100},{"s":"W","a":62,"v":150},{"s":"W","a":63,"v":112},{"s":"W","a":63.3,"v":92},{"s":"W","a":64,"v":102},{"s":"W","a":65,"v":150},{"s":"W","a":65.3,"v":140},{"s":"W","a":66,"v":130},{"s":"W","a":66.3,"v":75},{"s":"W","a":67,"v":110},{"s":"W","a":68,"v":95},{"s":"W","a":69,"v":70},
{"s":"L","a":22,"v":50},{"s":"L","a":23,"v":30},{"s":"L","a":24,"v":35},{"s":"L","a":25,"v":55},{"s":"L","a":25.3,"v":65},{"s":"L","a":26,"v":45},{"s":"L","a":27,"v":123},{"s":"L","a":27.2,"v":60},{"s":"L","a":27.4,"v":65},{"s":"L","a":28,"v":55},{"s":"L","a":28.3,"v":80},{"s":"L","a":29,"v":80},{"s":"L","a":29.3,"v":65},{"s":"L","a":30,"v":70},{"s":"L","a":31,"v":110},{"s":"L","a":31.2,"v":85},{"s":"L","a":31.4,"v":55},{"s":"L","a":32,"v":62},{"s":"L","a":33,"v":50},{"s":"L","a":34,"v":58},{"s":"L","a":36,"v":55},{"s":"L","a":38,"v":60},{"s":"L","a":40,"v":85},{"s":"L","a":42,"v":88},{"s":"L","a":44,"v":52},{"s":"L","a":44.3,"v":110},{"s":"L","a":45,"v":100},{"s":"L","a":46,"v":105},{"s":"L","a":46.2,"v":90},{"s":"L","a":46.4,"v":75},{"s":"L","a":47,"v":100},{"s":"L","a":47.2,"v":140},{"s":"L","a":47.4,"v":60},{"s":"L","a":48,"v":95},{"s":"L","a":48.2,"v":58},{"s":"L","a":48.4,"v":72},{"s":"L","a":49,"v":145},{"s":"L","a":49.2,"v":80},{"s":"L","a":49.4,"v":50},{"s":"L","a":50,"v":100},{"s":"L","a":50.2,"v":85},{"s":"L","a":50.4,"v":62},{"s":"L","a":51,"v":158},{"s":"L","a":51.2,"v":105},{"s":"L","a":51.4,"v":90},{"s":"L","a":51.6,"v":70},{"s":"L","a":52,"v":92},{"s":"L","a":52.2,"v":68},{"s":"L","a":52.4,"v":110},{"s":"L","a":53,"v":88},{"s":"L","a":54,"v":118},{"s":"L","a":54.3,"v":80},{"s":"L","a":55,"v":75},{"s":"L","a":55.3,"v":95},{"s":"L","a":56,"v":38},{"s":"L","a":56.3,"v":88},{"s":"L","a":57,"v":140},{"s":"L","a":57.3,"v":42},{"s":"L","a":58,"v":95},{"s":"L","a":58.3,"v":42},{"s":"L","a":59,"v":45},{"s":"L","a":60,"v":118},{"s":"L","a":60.2,"v":90},{"s":"L","a":60.4,"v":98},{"s":"L","a":61,"v":85},{"s":"L","a":61.3,"v":125},{"s":"L","a":62,"v":92},{"s":"L","a":62.3,"v":80},{"s":"L","a":63,"v":140},{"s":"L","a":63.2,"v":85},{"s":"L","a":63.4,"v":98},{"s":"L","a":64,"v":115},{"s":"L","a":64.2,"v":55},{"s":"L","a":64.4,"v":72},{"s":"L","a":65,"v":108},{"s":"L","a":65.2,"v":90},{"s":"L","a":65.4,"v":45},{"s":"L","a":66,"v":112},{"s":"L","a":66.2,"v":98},{"s":"L","a":66.4,"v":62},{"s":"L","a":67,"v":118},{"s":"L","a":67.2,"v":105},{"s":"L","a":67.4,"v":28},{"s":"L","a":67.6,"v":80},{"s":"L","a":68,"v":120},{"s":"L","a":68.2,"v":95},{"s":"L","a":68.4,"v":65},{"s":"L","a":68.6,"v":55},{"s":"L","a":69,"v":150},{"s":"L","a":69.2,"v":135},{"s":"L","a":69.4,"v":88},{"s":"L","a":69.6,"v":50},{"s":"L","a":70,"v":100},{"s":"L","a":70.2,"v":80},{"s":"L","a":70.4,"v":40},{"s":"L","a":71,"v":128},{"s":"L","a":71.2,"v":95},{"s":"L","a":71.4,"v":18},{"s":"L","a":72,"v":150},{"s":"L","a":72.2,"v":75},{"s":"L","a":72.4,"v":58},{"s":"L","a":72.6,"v":42},{"s":"L","a":73,"v":115},{"s":"L","a":73.2,"v":90},{"s":"L","a":73.4,"v":70},{"s":"L","a":74,"v":120},{"s":"L","a":74.2,"v":95},{"s":"L","a":74.4,"v":62},{"s":"L","a":75,"v":88},{"s":"L","a":75.3,"v":72},{"s":"L","a":76,"v":95},{"s":"L","a":76.3,"v":55},{"s":"L","a":77,"v":150},{"s":"L","a":77.2,"v":95},{"s":"L","a":77.4,"v":70},{"s":"L","a":78,"v":138},{"s":"L","a":78.2,"v":100},{"s":"L","a":78.4,"v":45},{"s":"L","a":79,"v":100},{"s":"L","a":79.3,"v":68},{"s":"L","a":80,"v":118}],
 "SN": [
{"s":"W","a":20,"v":110},{"s":"W","a":20.3,"v":60},{"s":"W","a":21,"v":50},{"s":"W","a":21.3,"v":85},{"s":"W","a":22,"v":95},{"s":"W","a":22.3,"v":65},{"s":"W","a":23,"v":105},{"s":"W","a":23.2,"v":45},{"s":"W","a":23.4,"v":80},{"s":"W","a":24,"v":88},{"s":"W","a":24.2,"v":60},{"s":"W","a":24.4,"v":75},{"s":"W","a":25,"v":80},{"s":"W","a":26,"v":70},{"s":"W","a":27,"v":112},{"s":"W","a":27.3,"v":65},{"s":"W","a":28,"v":55},{"s":"W","a":29,"v":95},{"s":"W","a":30,"v":78},{"s":"W","a":31,"v":97},{"s":"W","a":31.3,"v":55},{"s":"W","a":32,"v":72},{"s":"W","a":33,"v":145},{"s":"W","a":33.3,"v":55},{"s":"W","a":34,"v":105},{"s":"W","a":34.3,"v":92},{"s":"W","a":35,"v":65},{"s":"W","a":35.3,"v":115},{"s":"W","a":36,"v":118},{"s":"W","a":37,"v":92},{"s":"W","a":38,"v":102},{"s":"W","a":38.3,"v":75},{"s":"W","a":40,"v":35},{"s":"W","a":40.3,"v":88},{"s":"W","a":43,"v":100},{"s":"W","a":43.3,"v":62},{"s":"W","a":44,"v":130},{"s":"W","a":44.3,"v":118},{"s":"W","a":45,"v":115},{"s":"W","a":46,"v":88},{"s":"W","a":48,"v":80},{"s":"W","a":49,"v":95},{"s":"W","a":50,"v":130},{"s":"W","a":50.2,"v":45},{"s":"W","a":50.4,"v":28},{"s":"W","a":51,"v":115},{"s":"W","a":51.3,"v":62},{"s":"W","a":52,"v":125},{"s":"W","a":52.3,"v":118},{"s":"W","a":53,"v":135},{"s":"W","a":54,"v":80},{"s":"W","a":55,"v":50},{"s":"W","a":56,"v":178},{"s":"W","a":56.2,"v":150},{"s":"W","a":56.4,"v":92},{"s":"W","a":57,"v":35},{"s":"W","a":57.3,"v":60},{"s":"W","a":58,"v":88},{"s":"W","a":59,"v":130},{"s":"W","a":60,"v":85},{"s":"W","a":60.3,"v":62},{"s":"W","a":61,"v":130},{"s":"W","a":62,"v":75},{"s":"W","a":62.3,"v":100},{"s":"W","a":63,"v":98},{"s":"W","a":64,"v":118},{"s":"W","a":65,"v":108},{"s":"W","a":66,"v":112},{"s":"W","a":67,"v":62},{"s":"W","a":68,"v":95},{"s":"W","a":69,"v":120},
{"s":"L","a":25,"v":98},{"s":"L","a":25.2,"v":55},{"s":"L","a":25.4,"v":45},{"s":"L","a":26,"v":80},{"s":"L","a":27,"v":110},{"s":"L","a":27.3,"v":85},{"s":"L","a":28,"v":100},{"s":"L","a":28.3,"v":85},{"s":"L","a":29,"v":100},{"s":"L","a":31,"v":118},{"s":"L","a":31.2,"v":95},{"s":"L","a":31.4,"v":85},{"s":"L","a":33,"v":85},{"s":"L","a":36,"v":78},{"s":"L","a":42,"v":75},{"s":"L","a":44,"v":140},{"s":"L","a":45,"v":90},{"s":"L","a":45.3,"v":65},{"s":"L","a":46,"v":150},{"s":"L","a":46.2,"v":120},{"s":"L","a":46.4,"v":105},{"s":"L","a":46.6,"v":65},{"s":"L","a":47,"v":140},{"s":"L","a":47.2,"v":110},{"s":"L","a":47.4,"v":78},{"s":"L","a":48,"v":172},{"s":"L","a":48.2,"v":145},{"s":"L","a":48.4,"v":82},{"s":"L","a":49,"v":122},{"s":"L","a":49.3,"v":65},{"s":"L","a":50,"v":165},{"s":"L","a":50.2,"v":115},{"s":"L","a":50.4,"v":92},{"s":"L","a":51,"v":85},{"s":"L","a":51.3,"v":55},{"s":"L","a":52,"v":108},{"s":"L","a":52.2,"v":90},{"s":"L","a":52.4,"v":118},{"s":"L","a":53,"v":35},{"s":"L","a":53.3,"v":100},{"s":"L","a":54,"v":122},{"s":"L","a":54.3,"v":65},{"s":"L","a":55,"v":125},{"s":"L","a":55.3,"v":78},{"s":"L","a":56,"v":128},{"s":"L","a":56.2,"v":98},{"s":"L","a":56.4,"v":62},{"s":"L","a":57,"v":118},{"s":"L","a":57.2,"v":45},{"s":"L","a":57.4,"v":75},{"s":"L","a":58,"v":148},{"s":"L","a":58.3,"v":105},{"s":"L","a":59,"v":82},{"s":"L","a":59.3,"v":65},{"s":"L","a":60,"v":110},{"s":"L","a":60.3,"v":88},{"s":"L","a":61,"v":132},{"s":"L","a":61.3,"v":100},{"s":"L","a":62,"v":150},{"s":"L","a":62.2,"v":118},{"s":"L","a":62.4,"v":65},{"s":"L","a":63,"v":128},{"s":"L","a":63.3,"v":90},{"s":"L","a":64,"v":115},{"s":"L","a":64.2,"v":98},{"s":"L","a":64.4,"v":80},{"s":"L","a":65,"v":108},{"s":"L","a":65.2,"v":95},{"s":"L","a":65.4,"v":85},{"s":"L","a":66,"v":145},{"s":"L","a":66.2,"v":100},{"s":"L","a":66.4,"v":90},{"s":"L","a":67,"v":100},{"s":"L","a":67.2,"v":95},{"s":"L","a":67.4,"v":78},{"s":"L","a":67.6,"v":55},{"s":"L","a":68,"v":130},{"s":"L","a":68.2,"v":108},{"s":"L","a":68.4,"v":90},{"s":"L","a":69,"v":138},{"s":"L","a":69.2,"v":118},{"s":"L","a":69.4,"v":95},{"s":"L","a":69.6,"v":72},{"s":"L","a":70,"v":140},{"s":"L","a":70.2,"v":88},{"s":"L","a":70.4,"v":65},{"s":"L","a":71,"v":125},{"s":"L","a":71.2,"v":95},{"s":"L","a":71.4,"v":40},{"s":"L","a":72,"v":170},{"s":"L","a":72.2,"v":112},{"s":"L","a":72.4,"v":80},{"s":"L","a":73,"v":132},{"s":"L","a":73.2,"v":90},{"s":"L","a":73.4,"v":75},{"s":"L","a":74,"v":118},{"s":"L","a":74.2,"v":95},{"s":"L","a":74.4,"v":155},{"s":"L","a":75,"v":108},{"s":"L","a":75.2,"v":148},{"s":"L","a":75.4,"v":100},{"s":"L","a":76,"v":85},{"s":"L","a":76.3,"v":125},{"s":"L","a":77,"v":115},{"s":"L","a":77.2,"v":92},{"s":"L","a":77.4,"v":52},{"s":"L","a":78,"v":130},{"s":"L","a":78.2,"v":88},{"s":"L","a":78.4,"v":62},{"s":"L","a":79,"v":122},{"s":"L","a":79.3,"v":105},{"s":"L","a":80,"v":120}],
 "PT": [
{"s":"W","a":20,"v":5},{"s":"W","a":20.3,"v":30},{"s":"W","a":21,"v":35},{"s":"W","a":21.3,"v":22},{"s":"W","a":22,"v":36},{"s":"W","a":22.3,"v":18},{"s":"W","a":23,"v":38},{"s":"W","a":23.2,"v":25},{"s":"W","a":23.4,"v":15},{"s":"W","a":24,"v":40},{"s":"W","a":24.2,"v":28},{"s":"W","a":24.4,"v":20},{"s":"W","a":25,"v":32},{"s":"W","a":25.3,"v":15},{"s":"W","a":26,"v":35},{"s":"W","a":27,"v":38},{"s":"W","a":27.3,"v":25},{"s":"W","a":28,"v":45},{"s":"W","a":28.3,"v":22},{"s":"W","a":30,"v":38},{"s":"W","a":31,"v":60},{"s":"W","a":31.2,"v":25},{"s":"W","a":31.4,"v":18},{"s":"W","a":32,"v":50},{"s":"W","a":32.3,"v":40},{"s":"W","a":33,"v":20},{"s":"W","a":33.3,"v":35},{"s":"W","a":34,"v":52},{"s":"W","a":34.3,"v":38},{"s":"W","a":35,"v":30},{"s":"W","a":36,"v":82},{"s":"W","a":36.3,"v":52},{"s":"W","a":37,"v":38},{"s":"W","a":37.3,"v":28},{"s":"W","a":38,"v":68},{"s":"W","a":38.2,"v":55},{"s":"W","a":38.4,"v":48},{"s":"W","a":38.6,"v":25},{"s":"W","a":39,"v":35},{"s":"W","a":40,"v":65},{"s":"W","a":40.2,"v":45},{"s":"W","a":40.4,"v":18},{"s":"W","a":41,"v":32},{"s":"W","a":43,"v":85},{"s":"W","a":43.2,"v":48},{"s":"W","a":43.4,"v":35},{"s":"W","a":44,"v":60},{"s":"W","a":44.2,"v":20},{"s":"W","a":44.4,"v":12},{"s":"W","a":45,"v":83},{"s":"W","a":45.2,"v":58},{"s":"W","a":45.4,"v":45},{"s":"W","a":46,"v":42},{"s":"W","a":46.3,"v":38},{"s":"W","a":47,"v":90},{"s":"W","a":47.2,"v":68},{"s":"W","a":47.4,"v":50},{"s":"W","a":48,"v":85},{"s":"W","a":48.3,"v":52},{"s":"W","a":49,"v":82},{"s":"W","a":49.3,"v":22},{"s":"W","a":50,"v":45},{"s":"W","a":50.2,"v":35},{"s":"W","a":50.4,"v":28},{"s":"W","a":51,"v":25},{"s":"W","a":51.3,"v":55},{"s":"W","a":52,"v":42},{"s":"W","a":52.2,"v":38},{"s":"W","a":52.4,"v":15},{"s":"W","a":53,"v":78},{"s":"W","a":53.3,"v":28},{"s":"W","a":54,"v":58},{"s":"W","a":54.3,"v":50},{"s":"W","a":55,"v":62},{"s":"W","a":55.3,"v":35},{"s":"W","a":56,"v":40},{"s":"W","a":56.3,"v":28},{"s":"W","a":57,"v":65},{"s":"W","a":57.2,"v":35},{"s":"W","a":57.4,"v":20},{"s":"W","a":58,"v":38},{"s":"W","a":58.3,"v":42},{"s":"W","a":59,"v":62},{"s":"W","a":60,"v":55},{"s":"W","a":60.2,"v":45},{"s":"W","a":60.4,"v":35},{"s":"W","a":60.6,"v":28},{"s":"W","a":61,"v":65},{"s":"W","a":61.3,"v":30},{"s":"W","a":62,"v":52},{"s":"W","a":62.3,"v":18},{"s":"W","a":63,"v":48},{"s":"W","a":63.3,"v":15},{"s":"W","a":64,"v":70},{"s":"W","a":64.2,"v":40},{"s":"W","a":64.4,"v":35},{"s":"W","a":65,"v":68},{"s":"W","a":65.2,"v":42},{"s":"W","a":65.4,"v":58},{"s":"W","a":66,"v":35},{"s":"W","a":67,"v":30},{"s":"W","a":67.3,"v":25},{"s":"W","a":68,"v":18},{"s":"W","a":69,"v":30}],
 "THA": [
{"s":"W","a":20,"v":-8},{"s":"W","a":21,"v":5},{"s":"W","a":21.3,"v":0},{"s":"W","a":22,"v":18},{"s":"W","a":22.3,"v":-5},{"s":"W","a":23,"v":3},{"s":"W","a":23.3,"v":-8},{"s":"W","a":24,"v":2},{"s":"W","a":24.3,"v":-6},{"s":"W","a":25,"v":5},{"s":"W","a":25.3,"v":-8},{"s":"W","a":26,"v":0},{"s":"W","a":27,"v":-2},{"s":"W","a":28,"v":12},{"s":"W","a":29,"v":3},{"s":"W","a":30,"v":5},{"s":"W","a":31,"v":-12},{"s":"W","a":31.3,"v":2},{"s":"W","a":32,"v":15},{"s":"W","a":32.3,"v":-6},{"s":"W","a":33,"v":-2},{"s":"W","a":34,"v":0},{"s":"W","a":35,"v":-5},{"s":"W","a":36,"v":8},{"s":"W","a":37,"v":2},{"s":"W","a":38,"v":-3},{"s":"W","a":39,"v":5},{"s":"W","a":40,"v":12},{"s":"W","a":40.3,"v":0},{"s":"W","a":42,"v":8},{"s":"W","a":43,"v":14},{"s":"W","a":43.3,"v":-2},{"s":"W","a":44,"v":-10},{"s":"W","a":44.3,"v":5},{"s":"W","a":45,"v":10},{"s":"W","a":46,"v":2},{"s":"W","a":47,"v":8},{"s":"W","a":48,"v":22},{"s":"W","a":48.3,"v":-2},{"s":"W","a":49,"v":5},{"s":"W","a":50,"v":-5},{"s":"W","a":50.3,"v":-12},{"s":"W","a":51,"v":0},{"s":"W","a":52,"v":-8},{"s":"W","a":52.3,"v":-15},{"s":"W","a":53,"v":18},{"s":"W","a":54,"v":-4},{"s":"W","a":55,"v":5},{"s":"W","a":56,"v":-10},{"s":"W","a":57,"v":-8},{"s":"W","a":58,"v":-6},{"s":"W","a":59,"v":0},{"s":"W","a":60,"v":-8},{"s":"W","a":60.3,"v":5},{"s":"W","a":61,"v":-4},{"s":"W","a":62,"v":8},{"s":"W","a":62.3,"v":-8},{"s":"W","a":63,"v":-2},{"s":"W","a":64,"v":-12},{"s":"W","a":65,"v":12},{"s":"W","a":65.3,"v":-5},{"s":"W","a":66,"v":0},{"s":"W","a":66.3,"v":-10},{"s":"W","a":67,"v":-8},{"s":"W","a":67.3,"v":-15},{"s":"W","a":68,"v":-3},{"s":"W","a":69,"v":-15}]
},
"config": {
 "font": "Liberation Sans",
 "view": {"stroke": "#5a5a5a", "strokeWidth": 1},
 "axis": {"domain": false, "grid": false, "tickSize": -5, "tickColor": "#555", "labelFont": "Liberation Sans", "labelFontSize": 13, "labelColor": "#222", "labelPadding": 3, "labelFlush": false, "titleFont": "Liberation Sans", "titleFontSize": 14, "titleFontWeight": "normal", "titleColor": "#222", "titlePadding": 3},
 "title": {"font": "Liberation Sans", "fontSize": 15, "fontWeight": "normal", "color": "#222", "offset": 1},
 "legend": {"strokeColor": "#888", "fillColor": "#ffffff", "padding": 3, "rowPadding": 2, "labelLimit": 0, "labelFont": "Liberation Sans", "labelFontSize": 13, "labelColor": "#222", "symbolStrokeWidth": 1, "symbolOffset": 13, "labelOffset": 9}
}
}
